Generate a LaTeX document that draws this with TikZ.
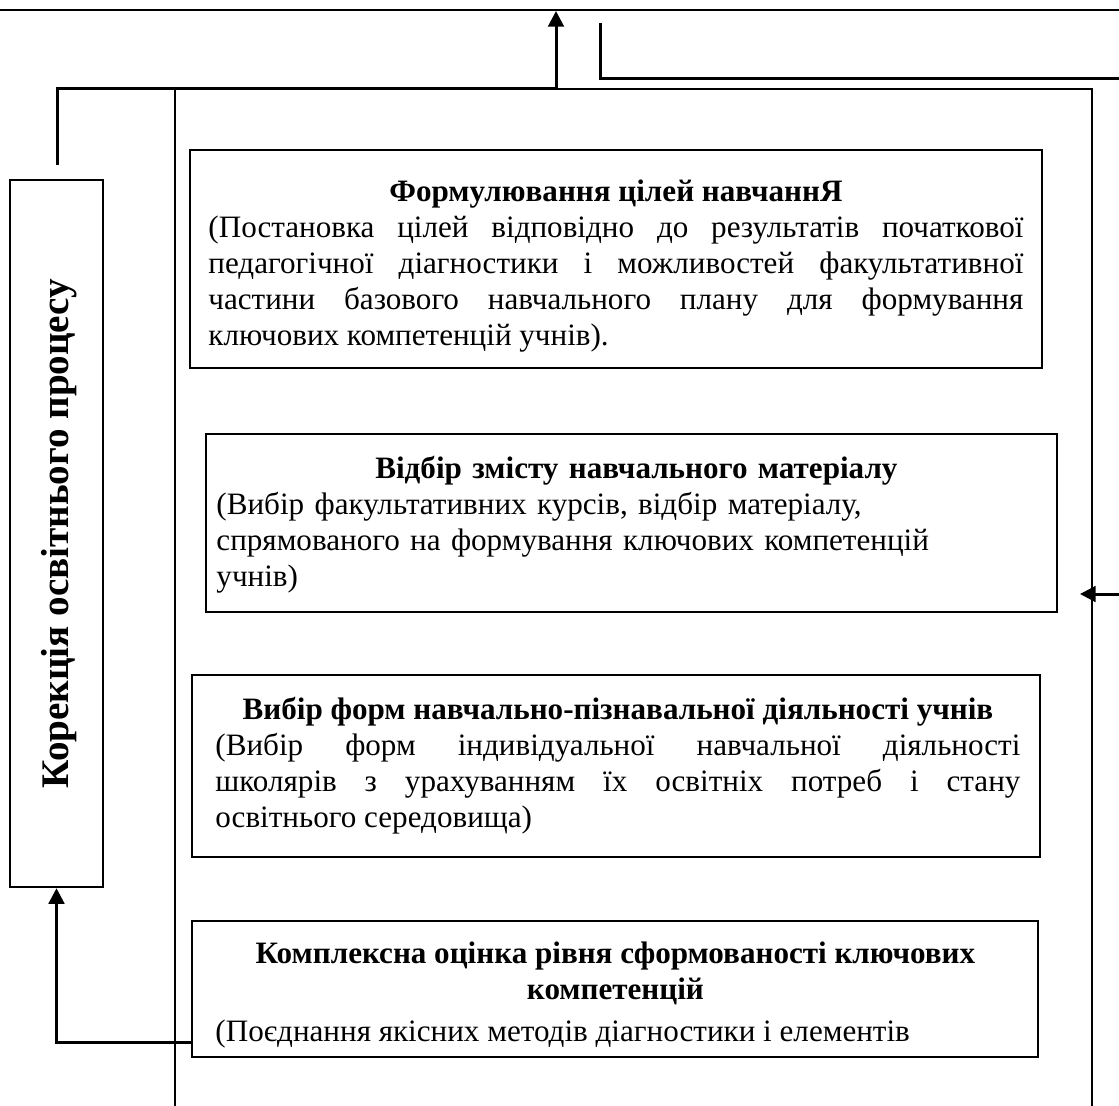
\documentclass[tikz,border=0pt]{standalone}
\usepackage{fontspec}
\setmainfont{Liberation Serif}
\usetikzlibrary{arrows.meta,fit}
\hyphenpenalty=10000
\exhyphenpenalty=10000
\begin{document}
\begin{tikzpicture}[x=0.45pt,y=-0.45pt,
  boxst/.style={draw, line width=1.1pt, inner sep=0pt},
  txt/.style={inner sep=0pt, anchor=base west, text width=#1,
    font=\fontsize{14}{16.2}\selectfont},
  conn/.style={line width=1.35pt},
  arr/.style={conn, -{Triangle[length=7pt,width=7pt]}},
  framest/.style={line width=0.75pt}]
\useasboundingbox (0,0) rectangle (1119,1106);

% top line and frame
\coordinate (topL) at (0,10);
\coordinate (topR) at (1119,10);
\draw[line width=0.9pt] (topL) -- (topR);
\draw[framest] (175,1106) -- (175,89) -- (1092,89) -- (1092,1106);

% boxes
\node[boxst, fit={(190,150) (1042,368)}] (b1) {};
\node[boxst, fit={(206,434) (1057,612)}] (b2) {};
\node[boxst, fit={(192,675) (1040,857)}] (b3) {};
\node[boxst, fit={(192,921) (1038,1057)}] (b4) {};
\node[boxst, fit={(10,180) (103,887)}] (corr) {};

% texts
\node[txt=366.75pt, align=justify] (t1) at (208,201) {{\centering\bfseries Формулювання цілей навчаннЯ\par}
(Постановка цілей відповідно до результатів початкової\linebreak
педагогічної діагностики і можливостей факультативної\linebreak
частини базового навчального плану для формування\linebreak
ключових компетенцій учнів).};

\node[txt=378pt, align=left] (t2) at (216,478) {{\centering\bfseries Відбір змісту навчального матеріалу\par}
(Вибір факультативних курсів, відбір матеріалу,\\
спрямованого на формування ключових компетенцій\\
учнів)};

\node[txt=362.25pt, align=justify] (t3) at (215,719) {{\centering\bfseries Вибір форм навчально-пізнавальної діяльності учнів\par}
(Вибір форм індивідуальної навчальної діяльності\linebreak
школярів з урахуванням їх освітніх потреб і стану\linebreak
освітнього середовища)};

\node[txt=360pt, align=justify] (t4) at (215,963) {{\centering\bfseries Комплексна оцінка рівня сформованості ключових\\ компетенцій\par}
\vspace{3pt}(Поєднання якісних методів діагностики і елементів};

\node[rotate=90, inner sep=0pt, font=\fontsize{17.6}{20}\selectfont\bfseries] (ct) at ([xshift=1pt]corr.center) {Корекція освітнього процесу};

% connectors
\coordinate (c1) at (57,165);
\coordinate (j1) at (556,88);
\coordinate (t1top) at (556,11);
\draw[conn] (c1) |- (j1);
\draw[arr] (j1) -- (t1top);

\coordinate (r0) at (600,23);
\coordinate (r1) at (1119,78);
\draw[conn] (r0) |- (r1);

\coordinate (ra) at (1119,594);
\coordinate (ra2) at (1080,594);
\draw[arr] (ra) -- (ra2);

\coordinate (b4c) at (192,1042);
\draw[arr] (b4c) -| (corr.south);
\end{tikzpicture}
\end{document}
